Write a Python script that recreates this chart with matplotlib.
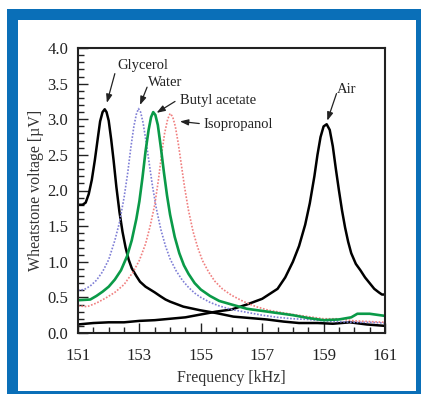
import matplotlib
matplotlib.use("Agg")
import matplotlib.pyplot as plt
from matplotlib.patches import Rectangle
from matplotlib.ticker import MultipleLocator

plt.rcParams['font.family'] = ['Liberation Serif', 'DejaVu Serif']

# ---- data ----
glycerol_x = [151.0, 151.15, 151.25, 151.35, 151.45, 151.55, 151.65, 151.72, 151.8, 151.87, 151.93,
              152.0, 152.08, 152.16, 152.25, 152.35, 152.45, 152.55, 152.65, 152.75, 152.9, 153.02,
              153.2, 153.35, 153.5, 153.67, 153.85, 154.0, 154.43, 154.97, 155.5, 156.06, 156.6,
              157.15, 157.7, 158.2, 158.8, 159.3, 159.86, 160.4, 161.0]
glycerol_y = [1.8, 1.8, 1.83, 1.95, 2.15, 2.43, 2.75, 2.97, 3.1, 3.14, 3.1,
              2.98, 2.72, 2.42, 2.05, 1.7, 1.42, 1.2, 1.03, 0.91, 0.8, 0.72,
              0.65, 0.61, 0.57, 0.52, 0.47, 0.44, 0.37, 0.32, 0.28, 0.23, 0.21,
              0.19, 0.16, 0.14, 0.14, 0.13, 0.15, 0.12, 0.10]

air_x = [151.0, 151.5, 152.0, 152.5, 153.0, 153.5, 154.0, 154.5, 155.0, 155.5, 156.0, 156.5,
         157.0, 157.5, 157.75, 158.0, 158.2, 158.4, 158.55, 158.7, 158.8, 158.9, 159.0, 159.1,
         159.2, 159.3, 159.4, 159.5, 159.6, 159.7, 159.8, 159.9, 160.05, 160.2, 160.35, 160.5,
         160.65, 160.8, 160.9, 161.0]
air_y = [0.12, 0.14, 0.15, 0.15, 0.17, 0.18, 0.2, 0.22, 0.26, 0.3, 0.33, 0.4,
         0.48, 0.62, 0.78, 1.0, 1.22, 1.52, 1.82, 2.2, 2.5, 2.75, 2.9, 2.93,
         2.85, 2.62, 2.3, 2.0, 1.72, 1.48, 1.28, 1.12, 0.97, 0.88, 0.78, 0.7,
         0.62, 0.57, 0.54, 0.54]

water_x = [151.0, 151.2, 151.4, 151.6, 151.8, 152.0, 152.2, 152.35, 152.5, 152.62, 152.72, 152.82,
           152.9, 152.97, 153.04, 153.12, 153.22, 153.32, 153.42, 153.55, 153.7, 153.85, 154.0,
           154.2, 154.4, 154.6, 154.8, 155.0, 155.3, 155.6, 156.0, 156.5, 157.0, 157.5, 158.0,
           158.5, 159.0, 159.5, 160.0, 160.5, 161.0]
water_y = [0.6, 0.61, 0.66, 0.74, 0.86, 1.03, 1.3, 1.55, 1.9, 2.25, 2.6, 2.9,
           3.07, 3.15, 3.1, 2.95, 2.68, 2.38, 2.08, 1.75, 1.45, 1.22, 1.04,
           0.87, 0.74, 0.64, 0.56, 0.5, 0.43, 0.38, 0.33, 0.29, 0.25, 0.22, 0.2,
           0.19, 0.17, 0.16, 0.15, 0.15, 0.14]

butyl_x = [151.0, 151.4, 151.6, 151.8, 152.0, 152.2, 152.4, 152.6, 152.75, 152.9, 153.0, 153.1,
           153.2, 153.3, 153.38, 153.45, 153.52, 153.6, 153.7, 153.8, 153.9, 154.0, 154.15, 154.3,
           154.45, 154.6, 154.8, 155.0, 155.3, 155.6, 156.0, 156.5, 157.0, 157.5, 158.0, 158.5,
           159.0, 159.5, 159.9, 160.1, 160.5, 161.0]
butyl_y = [0.46, 0.47, 0.52, 0.58, 0.65, 0.75, 0.88, 1.08, 1.3, 1.6, 1.85, 2.18,
           2.55, 2.85, 3.03, 3.1, 3.06, 2.92, 2.6, 2.25, 1.93, 1.66, 1.35, 1.12,
           0.95, 0.83, 0.7, 0.61, 0.52, 0.45, 0.4, 0.34, 0.31, 0.28, 0.25, 0.21,
           0.18, 0.19, 0.22, 0.27, 0.27, 0.24]

iso_x = [151.0, 151.3, 151.6, 151.9, 152.2, 152.5, 152.8, 153.0, 153.2, 153.35, 153.5, 153.62,
         153.72, 153.82, 153.92, 154.0, 154.08, 154.17, 154.27, 154.37, 154.47, 154.6, 154.75,
         154.9, 155.05, 155.25, 155.45, 155.7, 156.0, 156.4, 156.8, 157.2, 157.6, 158.0, 158.5,
         159.0, 159.5, 160.0, 160.5, 161.0]
iso_y = [0.38, 0.37, 0.42, 0.49, 0.57, 0.68, 0.86, 1.02, 1.25, 1.5, 1.8, 2.15,
         2.5, 2.8, 3.0, 3.08, 3.04, 2.9, 2.65, 2.35, 2.05, 1.72, 1.42,
         1.2, 1.02, 0.86, 0.73, 0.62, 0.53, 0.44, 0.37, 0.32, 0.29, 0.26, 0.23,
         0.2, 0.2, 0.17, 0.16, 0.15]

x_ticks = [151, 153, 155, 157, 159, 161]
y_ticks = [0.0, 0.5, 1.0, 1.5, 2.0, 2.5, 3.0, 3.5, 4.0]

W, H = 421, 394
fig = plt.figure(figsize=(W / 100, H / 100), dpi=100)
fig.patch.set_facecolor('white')

blue = '#0a6fb8'
fig.add_artist(Rectangle((7 / W, 0), (W - 7) / W, (H - 9) / H, transform=fig.transFigure,
                         facecolor=blue, edgecolor='none', zorder=-10))
fig.add_artist(Rectangle((17.5 / W, (H - 391) / H), (416 - 17.5) / W, (391 - 20) / H,
                         transform=fig.transFigure, facecolor='white', edgecolor='none', zorder=-9))

ax = fig.add_axes([78 / W, 1 - 333 / H, (385 - 78) / W, (333 - 48) / H])
ax.set_facecolor('white')

ax.plot(glycerol_x, glycerol_y, color='black', lw=1.8)
ax.plot(air_x, air_y, color='black', lw=1.8)
ax.plot(water_x, water_y, color='#7f7fd6', lw=1.2, ls=(0, (1, 1)))
ax.plot(iso_x, iso_y, color='#f07f7f', lw=1.2, ls=(0, (1, 1)))
ax.plot(butyl_x, butyl_y, color='#0a9a48', lw=1.9)

ax.set_xlim(151, 161)
ax.set_ylim(0, 4)
ax.set_xticks(x_ticks)
ax.set_yticks(y_ticks)
ax.set_yticklabels([f"{v:.1f}" for v in y_ticks])
ax.xaxis.set_minor_locator(MultipleLocator(0.5))
ax.yaxis.set_minor_locator(MultipleLocator(0.1))
ax.tick_params(which='major', direction='in', length=7, width=1.0, labelsize=12, colors='#222222')
ax.tick_params(which='minor', direction='in', length=4, width=1.0, colors='#222222')
ax.tick_params(axis='x', which='major', pad=11)
ax.tick_params(axis='y', which='major', pad=7)
for s in ax.spines.values():
    s.set_linewidth(1.5)
    s.set_color('#222222')

ax.set_xlabel('Frequency [kHz]', fontsize=11.5, color='#333333', labelpad=4)
ax.set_ylabel('Wheatstone voltage [µV]', fontsize=11.5, color='#333333', labelpad=2)

akw = dict(arrowprops=dict(arrowstyle='-|>,head_length=0.5,head_width=0.18', color='#222222', lw=0.9,
                           shrinkA=0, shrinkB=0))
tkw = dict(va='center', ha='left', fontsize=10.5, color='#222222')
ax.text(152.27, 3.76, 'Glycerol', **tkw)
ax.annotate('', xy=(151.94, 3.23), xytext=(152.2, 3.64), **akw)
ax.text(153.28, 3.51, 'Water', **tkw)
ax.annotate('', xy=(153.02, 3.2), xytext=(153.25, 3.45), **akw)
ax.text(154.32, 3.26, 'Butyl acetate', **tkw)
ax.annotate('', xy=(153.56, 3.09), xytext=(154.16, 3.25), **akw)
ax.text(155.1, 2.92, 'Isopropanol', **tkw)
ax.annotate('', xy=(154.32, 2.97), xytext=(154.95, 2.94), **akw)
ax.text(159.43, 3.42, 'Air', **tkw)
ax.annotate('', xy=(159.12, 2.98), xytext=(159.42, 3.36), **akw)

fig.savefig('out.png', dpi=100)
